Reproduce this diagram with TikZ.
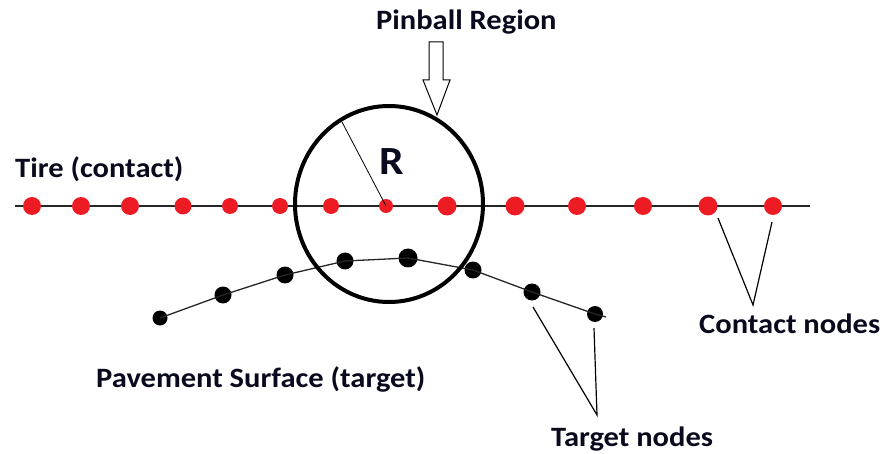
\documentclass[tikz,border=0pt]{standalone}
\usepackage{fontspec}
\setmainfont{Carlito}
\newfontfamily\widecal[FakeStretch=1.09]{Carlito}
\usetikzlibrary{shapes.geometric}
\definecolor{mspred}{RGB}{237,28,36}
\definecolor{txt}{RGB}{10,10,30}
\tikzset{
  rdot/.style={circle,fill=mspred,inner sep=0pt,minimum size=#1},
  rdot/.default=18pt,
  bdot/.style={circle,fill=black,inner sep=0pt,minimum size=#1},
  bdot/.default=17pt,
  lbl/.style={font=\widecal\fontsize{28}{30}\selectfont\bfseries,text=txt,inner sep=0pt,anchor=base west},
  thinline/.style={line width=1.3pt,draw=black!85},
  pointer/.style={line width=1.2pt,draw=black}
}
\begin{document}
\begin{tikzpicture}[x=1pt,y=-1pt]
\useasboundingbox[fill=white] (0,0) rectangle (883,454);
% tire line
\coordinate (tl) at (15,206);
\coordinate (tr) at (810,206);
\draw[thinline] (tl) -- (tr);
% target polyline
\node[bdot=15pt] (t1) at (160,318) {};
\node[bdot] (t2) at (223,295) {};
\node[bdot] (t3) at (285,275) {};
\node[bdot] (t4) at (345,261) {};
\node[bdot=19pt] (t5) at (408,258) {};
\node[bdot] (t6) at (473,270) {};
\node[bdot] (t7) at (532,292) {};
\node[bdot=16pt] (t8) at (595,314) {};
\coordinate (tend) at (606,317);
\draw[thinline] (t1.center) -- (t2.center) -- (t3.center) -- (t4.center) -- (t5.center) -- (t6.center) -- (t7.center) -- (t8.center) -- (tend);
% circle
\node[draw=black,line width=4pt,ellipse,inner sep=0pt,minimum width=188pt,minimum height=196pt] (pin) at (389,204) {};
% red dots
\node[rdot] (c1) at (32,206) {};
\node[rdot] (c2) at (81,206) {};
\node[rdot] (c3) at (130,206) {};
\node[rdot=17pt] (c4) at (183,206) {};
\node[rdot=16pt] (c5) at (230,206) {};
\node[rdot=16pt] (c6) at (280,206) {};
\node[rdot=16pt] (c7) at (331,206) {};
\node[rdot=14pt] (c8) at (386,206) {};
\node[rdot=19pt] (c9) at (447,206) {};
\node[rdot=19pt] (c10) at (515,206) {};
\node[rdot] (c11) at (577,206) {};
\node[rdot] (c12) at (643,206) {};
\node[rdot=19pt] (c13) at (708,206) {};
\node[rdot] (c14) at (773,206) {};
% radius
\coordinate (rtop) at (342,122);
\draw[line width=0.8pt] (rtop) -- (c8.center);
% hollow arrow
\coordinate (atip) at (437,115);
\draw[line width=1pt,line join=miter] (429,42) -- (443,42) -- (443,80) -- (450,80) -- (atip) -- (423,80) -- (429,80) -- cycle;
% labels
\node[lbl] (pinlbl) at (376,30) {Pinball Region};
\node[lbl] (tirelbl) at (15,178) {Tire (contact)};
\node[font=\widecal\fontsize{40}{44}\selectfont\bfseries,text=txt,inner sep=0pt,anchor=base] (rlbl) at (392,175) {R};
\node[lbl] (pavelbl) at (96,387) {Pavement Surface (target)};
\node[lbl] (cnlbl) at (699,333) {Contact nodes};
\node[lbl] (tnlbl) at (551,446) {Target nodes};
% contact pointer
\coordinate (cv) at (753,305);
\draw[pointer] (718,218) -- (cv) -- (772,222);
% target pointer
\coordinate (tv) at (597,415);
\draw[pointer] (533,307) -- (tv) -- (594,328);
\end{tikzpicture}
\end{document}
